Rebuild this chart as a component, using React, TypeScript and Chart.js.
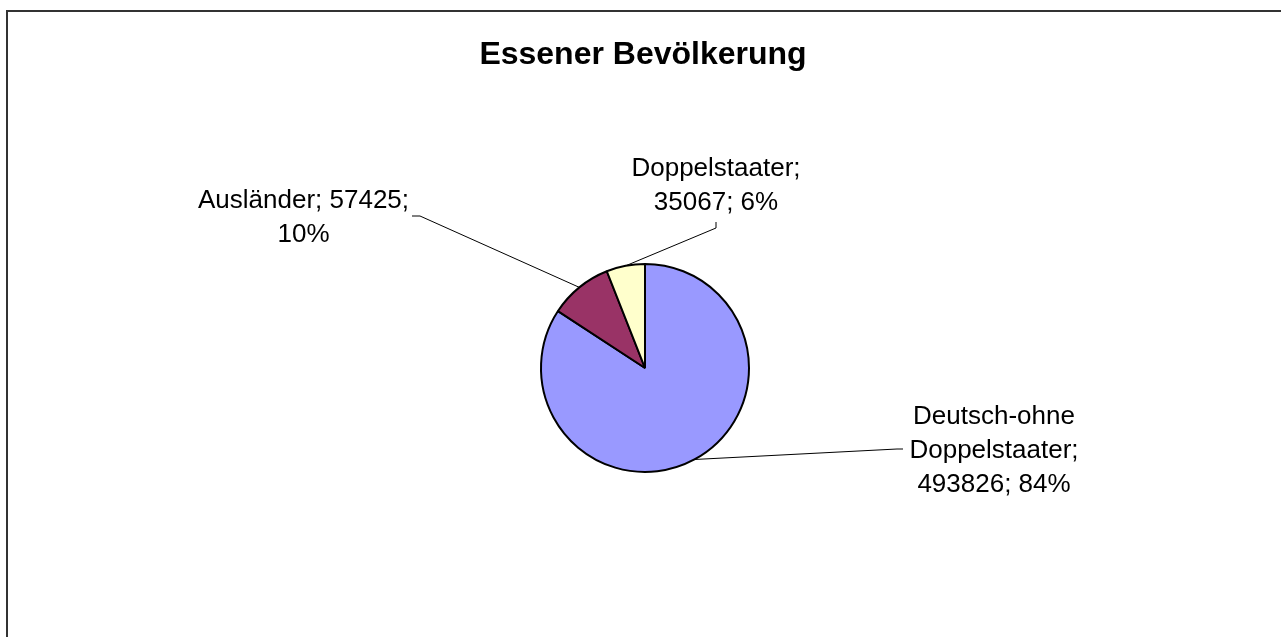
import React, { useEffect, useRef } from "react";
import { Chart, registerables } from "chart.js";

Chart.register(...registerables);

// ---- data ----
const TITLE = "Essener Bevölkerung";
const categories = ["Deutsch-ohne Doppelstaater", "Ausländer", "Doppelstaater"];
const values = [493826, 57425, 35067];
const colors = ["#9999FF", "#993366", "#FFFFCC"];

// ---- layout (canvas coordinates) ----
const CANVAS_W = 1290;
const CANVAS_H = 640;
const PIE_CX = 637;
const PIE_CY = 356;
const PIE_SIDE = 210;
const FONT = "'Liberation Sans', Arial, sans-serif";

// label placement: center x, first baseline y, wrap width, leader elbow & end
const labelLayout = [
  { cx: 986, by: 412, wrap: 175, elbow: [889, 437], end: [895, 437] },
  { cx: 295.5, by: 196, wrap: 220, elbow: [412, 204], end: [404, 204] },
  { cx: 708, by: 164, wrap: 175, elbow: [708, 216], end: [708, 210] },
];

function wrapText(ctx: CanvasRenderingContext2D, text: string, maxW: number): string[] {
  const words = text.split(" ");
  const lines: string[] = [];
  let cur = "";
  for (const w of words) {
    const test = cur ? cur + " " + w : w;
    if (cur && ctx.measureText(test).width > maxW) {
      lines.push(cur);
      cur = w;
    } else {
      cur = test;
    }
  }
  if (cur) lines.push(cur);
  return lines;
}

const labelPlugin = {
  id: "excelLabels",
  afterDraw(chart: any) {
    const ctx: CanvasRenderingContext2D = chart.ctx;
    const meta = chart.getDatasetMeta(0);
    const data: number[] = chart.data.datasets[0].data;
    const total = data.reduce((a, b) => a + b, 0);

    // title
    ctx.save();
    ctx.fillStyle = "#000";
    ctx.font = `bold 32px ${FONT}`;
    ctx.textAlign = "center";
    ctx.textBaseline = "alphabetic";
    ctx.fillText(TITLE, 635, 52);
    ctx.restore();

    meta.data.forEach((arc: any, i: number) => {
      const p = arc.getProps(["x", "y", "startAngle", "endAngle", "outerRadius"], true);
      const mid = (p.startAngle + p.endAngle) / 2;
      const px = p.x + Math.cos(mid) * p.outerRadius;
      const py = p.y + Math.sin(mid) * p.outerRadius;
      const lay = labelLayout[i];

      // leader line
      ctx.save();
      ctx.strokeStyle = "#000";
      ctx.lineWidth = 1;
      ctx.beginPath();
      ctx.moveTo(px, py);
      ctx.lineTo(lay.elbow[0], lay.elbow[1]);
      ctx.lineTo(lay.end[0], lay.end[1]);
      ctx.stroke();
      ctx.restore();

      // label text
      const pct = Math.round((data[i] / total) * 100);
      const text = `${chart.data.labels[i]}; ${data[i]}; ${pct}%`;
      ctx.save();
      ctx.fillStyle = "#000";
      ctx.font = `26px ${FONT}`;
      ctx.textAlign = "center";
      ctx.textBaseline = "alphabetic";
      const lines = wrapText(ctx, text, lay.wrap);
      lines.forEach((ln, k) => ctx.fillText(ln, lay.cx, lay.by + k * 34));
      ctx.restore();
    });
  },
};

export default function App() {
  const ref = useRef<HTMLCanvasElement | null>(null);

  useEffect(() => {
    if (!ref.current) return;
    const half = PIE_SIDE / 2;
    const chart = new Chart(ref.current, {
      type: "pie",
      data: {
        labels: categories,
        datasets: [
          {
            data: values,
            backgroundColor: colors,
            borderColor: "#000",
            borderWidth: 2,
            hoverOffset: 0,
            offset: 0,
            hoverBorderWidth: 2,
          },
        ],
      },
      options: {
        animation: false,
        responsive: false,
        events: [],
        layout: {
          padding: {
            left: PIE_CX - half,
            right: CANVAS_W - PIE_CX - half,
            top: PIE_CY - half,
            bottom: CANVAS_H - PIE_CY - half,
          },
        },
        plugins: {
          legend: { display: false },
          title: { display: false },
          tooltip: { enabled: false },
        },
      },
      plugins: [labelPlugin],
    });
    return () => chart.destroy();
  }, []);

  return (
    <div
      style={{
        position: "fixed",
        left: 0,
        top: 0,
        width: 1281,
        height: 637,
        overflow: "hidden",
        background: "#fff",
      }}
    >
      <div
        style={{
          position: "absolute",
          left: 6,
          top: 10,
          border: "2px solid #333",
          width: CANVAS_W,
          height: CANVAS_H,
          background: "#fff",
        }}
      >
        <canvas ref={ref} width={CANVAS_W} height={CANVAS_H} style={{ display: "block" }} />
      </div>
    </div>
  );
}
